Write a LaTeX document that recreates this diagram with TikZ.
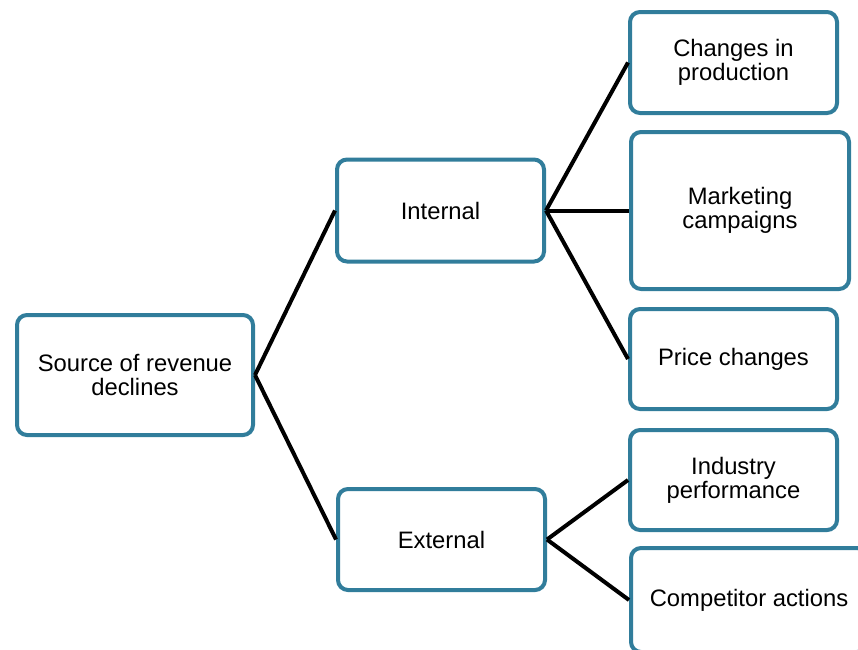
\documentclass[tikz,border=0pt]{standalone}
\usepackage{fontspec}
\setmainfont{Liberation Sans}
\definecolor{boxblue}{RGB}{49,125,155}
\begin{document}
\begin{tikzpicture}[x=1pt,y=-1pt,
  box/.style={draw=boxblue, line width=4pt, rounded corners=10pt, fill=white,
    align=center, inner sep=0pt, font=\fontsize{23.8pt}{24pt}\selectfont},
  conn/.style={line width=4pt, black}]
\useasboundingbox (0,0) rectangle (858,649);
\clip (0,0) rectangle (858,649);
\node[box, minimum width=236pt, minimum height=120pt] (src) at (135,375) {Source of revenue\\declines};
\node[box, minimum width=207pt, minimum height=102pt] (int) at (440.5,210.5) {Internal};
\node[box, minimum width=207pt, minimum height=101pt] (ext) at (441.5,539.5) {External};
\node[box, minimum width=207pt, minimum height=101pt] (chg) at (733.5,62.5) {Changes in\\production};
\node[box, minimum width=218pt, minimum height=157pt] (mkt) at (740,210.5) {Marketing\\campaigns};
\node[box, minimum width=207pt, minimum height=100pt] (prc) at (733.5,359) {Price changes};
\node[box, minimum width=207pt, minimum height=100pt] (ind) at (733.5,480) {Industry\\performance};
\node[box, minimum width=236pt, minimum height=104pt] (cmp) at (749,600) {Competitor actions};
\draw[conn] (src.east) -- (int.west);
\draw[conn] (src.east) -- (ext.west);
\draw[conn] (int.east) -- (chg.west);
\draw[conn] (int.east) -- (mkt.west);
\draw[conn] (int.east) -- (prc.west);
\draw[conn] (ext.east) -- (ind.west);
\draw[conn] (ext.east) -- (cmp.west);
\end{tikzpicture}
\end{document}
